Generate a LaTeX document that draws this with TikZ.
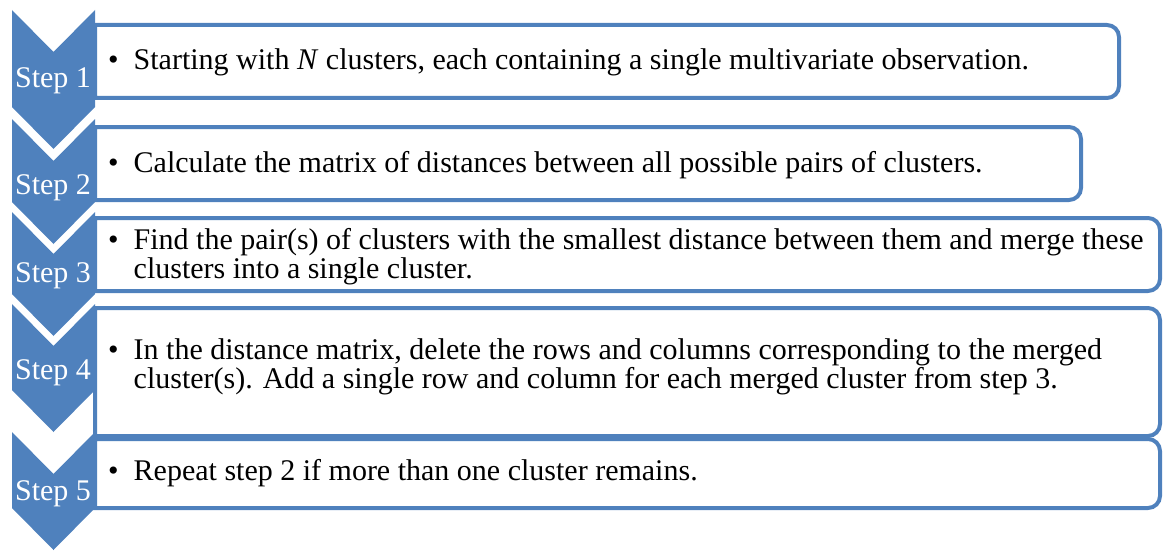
\documentclass[tikz,border=0pt]{standalone}
\usepackage{fontspec}
\setmainfont{Liberation Serif}
\usepackage{xcolor}
\usepackage{tikz}
\definecolor{stepblue}{HTML}{4F81BD}
\newcommand{\bulletlines}[1]{\begin{tabular}[t]{@{}l@{\hspace{15pt}}l@{}}\textbullet & #1\end{tabular}}

\begin{document}
\begin{tikzpicture}[x=1pt, y=-1pt,
    chevron/.style={fill=stepblue},
    listbox/.style={draw=stepblue, line width=4pt, fill=white},
    steplabel/.style={text=white, anchor=base, inner sep=0pt, font=\fontsize{30}{30}\selectfont},
    itemtext/.style={anchor=base west, inner sep=0pt, font=\fontsize{30}{29.5}\selectfont}]
    \useasboundingbox (0,0) rectangle (1163,551);

    % Boxes (square on the left, rounded on the right)
    \draw[listbox] (95,25) [rounded corners=12pt] -- (1119,25) -- (1119,98) [sharp corners] -- (95,98) -- cycle;
    \draw[listbox] (95,127) [rounded corners=12pt] -- (1081,127) -- (1081,200) [sharp corners] -- (95,200) -- cycle;
    \draw[listbox] (95,218) [rounded corners=12pt] -- (1160,218) -- (1160,291) [sharp corners] -- (95,291) -- cycle;
    \draw[listbox] (95,308) [rounded corners=12pt] -- (1160,308) -- (1160,436) [sharp corners] -- (95,436) -- cycle;
    \draw[listbox] (95,439) [rounded corners=12pt] -- (1160,439) -- (1160,508) [sharp corners] -- (95,508) -- cycle;

    % Chevrons
    \fill[chevron] (12,10) -- (53.5,52) -- (95,10) -- (95,107) -- (53.5,149) -- (12,107) -- cycle;
    \fill[chevron] (12,119) -- (53.5,161) -- (95,119) -- (95,202) -- (53.5,244) -- (12,202) -- cycle;
    \fill[chevron] (12,212) -- (53.5,254) -- (95,212) -- (95,294) -- (53.5,336) -- (12,294) -- cycle;
    \fill[chevron] (12,304) -- (53.5,346) -- (95,304) -- (95,390) -- (53.5,432) -- (12,390) -- cycle;
    \fill[chevron] (12,432) -- (53.5,474) -- (95,432) -- (95,508) -- (53.5,550) -- (12,508) -- cycle;

    % Step labels
    \node[steplabel] (lbl1) at (53,88) {Step 1};
    \node[steplabel] (lbl2) at (53,194) {Step 2};
    \node[steplabel] (lbl3) at (53,282) {Step 3};
    \node[steplabel] (lbl4) at (53,379) {Step 4};
    \node[steplabel] (lbl5) at (53,500) {Step 5};

    % Items
    \node[itemtext] (txt1) at (108,70) {\bulletlines{Starting with \textit{N} clusters, each containing a single multivariate observation.}};
    \node[itemtext] (txt2) at (108,172) {\bulletlines{Calculate the matrix of distances between all possible pairs of clusters.}};
    \node[itemtext] (txt3) at (108,249) {\bulletlines{Find the pair(s) of clusters with the smallest distance between them and merge these\\ & clusters into a single cluster.}};
    \node[itemtext] (txt4) at (108,359) {\bulletlines{In the distance matrix, delete the rows and columns corresponding to the merged\\ & cluster(s). Add a single row and column for each merged cluster from step 3.}};
    \node[itemtext] (txt5) at (108,480) {\bulletlines{Repeat step 2 if more than one cluster remains.}};
\end{tikzpicture}
\end{document}
